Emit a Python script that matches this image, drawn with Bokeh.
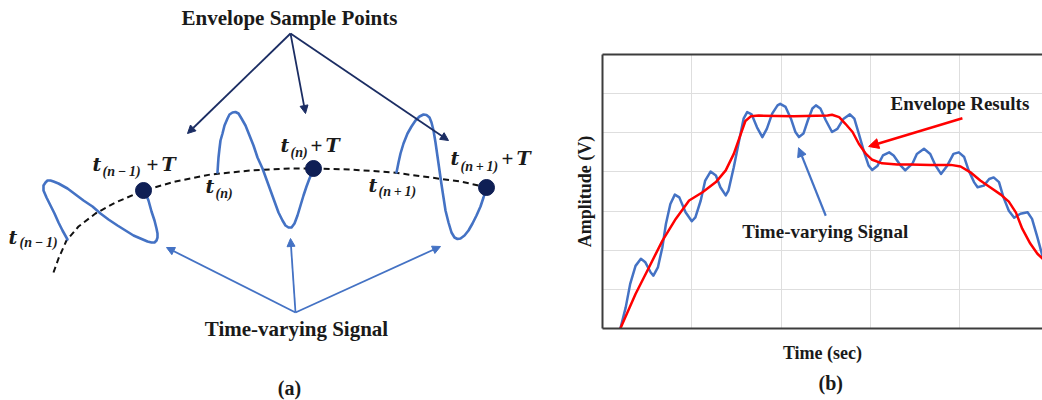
from bokeh.plotting import figure
from bokeh.layouts import row
from bokeh.models import (Range1d, Arrow, NormalHead, LinearAxis, FixedTicker,
                          Grid, Title)
from bokeh.core.properties import value
from bokeh.embed import file_html
from bokeh.resources import INLINE

SERIF = "Liberation Serif"
MATH = "DejaVu Serif"
INK = "#1a1a1a"
NAVY = "#0f1f55"
ARROW_NAVY = "#1b2d63"
BLUE = "#4472c4"
RED = "#ff0000"
FRAME = "#3c3c3c"
GRID = "#dedede"

# ---------------------------------------------------------------------------
# (b) time-varying signal and its envelope (time and amplitude in grid units)
# ---------------------------------------------------------------------------
signal_t = [0.20, 0.26, 0.31, 0.37, 0.43, 0.48, 0.54, 0.57, 0.62, 0.67,
            0.71, 0.76, 0.81, 0.86, 0.93, 1.00, 1.04, 1.10, 1.15, 1.21,
            1.27, 1.32, 1.38, 1.41, 1.47, 1.53, 1.58, 1.62, 1.67, 1.73,
            1.79, 1.84, 1.90, 1.96, 1.99, 2.05, 2.11, 2.16, 2.20, 2.25,
            2.30, 2.35, 2.39, 2.44, 2.50, 2.57, 2.63, 2.70, 2.77, 2.82,
            2.87, 2.93, 2.98, 3.02, 3.08, 3.14, 3.21, 3.26, 3.34, 3.39,
            3.47, 3.52, 3.60, 3.67, 3.73, 3.79, 3.86, 3.93, 3.99, 4.05,
            4.10, 4.16, 4.20, 4.27, 4.33, 4.38, 4.44, 4.49, 4.55, 4.61,
            4.68, 4.76, 4.81, 4.87, 4.93, 4.97]
signal_v = [0.00, 0.54, 1.14, 1.60, 1.78, 1.69, 1.43, 1.35, 1.56, 2.07,
            2.67, 3.18, 3.42, 3.35, 2.97, 2.74, 2.84, 3.27, 3.78, 4.01,
            3.91, 3.61, 3.40, 3.52, 4.12, 4.80, 5.36, 5.53, 5.47, 5.14,
            4.89, 5.10, 5.49, 5.70, 5.74, 5.66, 5.36, 5.02, 4.89, 4.98,
            5.32, 5.62, 5.70, 5.62, 5.32, 5.02, 5.10, 5.36, 5.47, 5.36,
            4.98, 4.50, 4.16, 4.05, 4.16, 4.42, 4.50, 4.42, 4.16, 4.04,
            4.21, 4.46, 4.59, 4.46, 4.16, 3.95, 4.16, 4.46, 4.50, 4.38,
            4.04, 3.74, 3.61, 3.65, 3.82, 3.86, 3.74, 3.35, 3.01, 2.83,
            2.93, 2.97, 2.80, 2.33, 1.82, 1.50]

envelope_t = [0.20, 0.37, 0.52, 0.67, 0.82, 0.97, 1.12, 1.27, 1.38, 1.47,
              1.55, 1.60, 1.66, 1.75, 2.14, 2.52, 2.57, 2.65, 2.72, 2.80,
              2.87, 2.95, 3.02, 3.13, 3.30, 3.45, 3.67, 3.90, 4.01, 4.12,
              4.23, 4.34, 4.46, 4.55, 4.63, 4.70, 4.79, 4.87, 4.93, 4.97]
envelope_v = [0.00, 0.88, 1.56, 2.24, 2.80, 3.27, 3.48, 3.74, 4.04, 4.46,
              4.98, 5.30, 5.42, 5.44, 5.42, 5.44, 5.46, 5.40, 5.23, 5.02,
              4.72, 4.46, 4.31, 4.22, 4.19, 4.19, 4.18, 4.18, 4.14, 3.99,
              3.78, 3.61, 3.42, 3.24, 2.96, 2.55, 2.17, 1.91, 1.78, 1.65]

time_grid = [1, 2, 3, 4]
amp_grid = [1, 2, 3, 4, 5, 6]

# callouts: text anchors and arrow start/end points
envelope_note = {"x": 3.225, "y": 5.75, "text": "Envelope Results"}
envelope_arrow = {"x0": 4.03, "y0": 5.37, "x1": 2.98, "y1": 4.65}
signal_note = {"x": 2.494, "y": 2.49, "text": "Time-varying Signal"}
signal_arrow = {"x0": 2.50, "y0": 2.88, "x1": 2.195, "y1": 4.62}

# ---------------------------------------------------------------------------
# (a) sampling schematic, drawn in page-like units (y grows downward)
# ---------------------------------------------------------------------------
arc_x = [53, 58, 66, 78, 95, 115, 143, 175, 210, 250, 290, 313, 350, 393, 430, 460, 487]
arc_y = [272, 258, 240, 226, 213, 202, 190, 181, 174, 170, 168, 168, 169, 172, 177, 181, 187]

wave_a_x = [67, 62, 58, 54, 50, 46, 43, 43, 45, 47, 50, 53, 58, 67, 75, 83, 92,
            100, 108, 117, 125, 133, 140, 147, 151, 154, 156, 157, 157, 156,
            154, 151, 148, 146, 144]
wave_a_y = [239, 230, 222, 213, 205, 197, 190, 185, 182, 180, 180, 181, 183,
            188, 194, 200, 206, 213, 219, 225, 230, 235, 238, 241, 242, 242,
            240, 237, 233, 228, 220, 211, 200, 195, 191]

wave_b_x = [217, 217.5, 218, 219, 220, 222, 224, 227, 229, 232, 235, 238, 241,
            245, 249, 253, 257, 262, 266, 270, 274, 278, 282, 285, 288, 291,
            294, 297, 300, 303, 306, 309, 312]
wave_b_y = [172, 164, 157, 148, 140, 133, 125, 118, 114, 112, 111.5, 113, 118,
            125, 135, 145, 157, 168, 179, 190, 201, 212, 220, 225, 227, 227,
            223, 215, 205, 195, 186, 178, 171]

wave_c_x = [396, 398, 400, 403, 407, 411, 415, 419, 423, 426, 429, 431, 433,
            435, 437, 439, 441, 443, 445, 448, 451, 454, 457, 460, 464, 468,
            472, 476, 480, 483, 486]
wave_c_y = [172, 162, 153, 143, 133, 126, 120, 116, 114, 114.5, 117, 122, 130,
            142, 156, 170, 184, 197, 210, 222, 232, 237, 238.5, 238, 235, 230,
            223, 215, 206, 197, 187]

sample_x = [143, 313, 486]
sample_y = [190, 168, 187]

title_pos = (289, 17)
sample_arrow_start = (290, 33)
sample_arrow_ends_x = [187, 305, 448]
sample_arrow_ends_y = [133, 113, 140]

signal_title_pos = (296, 328)
signal_arrow_start = (295, 312)
signal_arrow_ends_x = [166, 290, 440]
signal_arrow_ends_y = [247, 238, 246]

panel_a_pos = (289, 387)

# time-stamp labels: italic "t", subscript index, optional "+ T"
stamp_t_x = [92, 280, 450, 205, 368, 8]
stamp_t_y = [163, 144, 157, 185, 184, 236]
stamp_sub = ["(n\u2009\u2212\u20091)", "(n)", "(n\u2009+\u20091)", "(n)",
             "(n\u2009+\u20091)", "(n\u2009\u2212\u20091)"]
stamp_sub_x = [102, 290, 460, 215, 378, 19]
stamp_sub_y = [171, 152, 166, 193, 191, 242]
stamp_plus_x = [146, 310, 501]
stamp_T_x = [161, 325, 516]
stamp_plus_y = [164, 145, 158]

# ---------------------------------------------------------------------------
pa = figure(width=560, height=400, x_range=Range1d(0, 560), y_range=Range1d(400, 0),
            x_axis_type=None, y_axis_type=None, output_backend="svg",
            toolbar_location=None, min_border=0)
pa.frame_align = False
pa.outline_line_color = None
pa.background_fill_color = "white"
pa.border_fill_color = "white"

pa.line(arc_x, arc_y, line_color="#111111", line_width=2, line_dash="6 4")
for wx, wy in ((wave_a_x, wave_a_y), (wave_b_x, wave_b_y), (wave_c_x, wave_c_y)):
    pa.line(wx, wy, line_color=BLUE, line_width=2.6, line_join="round", line_cap="round")
pa.scatter(sample_x, sample_y, size=16, fill_color=NAVY, line_color=NAVY)

for ex, ey in zip(sample_arrow_ends_x, sample_arrow_ends_y):
    pa.add_layout(Arrow(x_start=sample_arrow_start[0], y_start=sample_arrow_start[1],
                        x_end=ex, y_end=ey, line_color=ARROW_NAVY, line_width=1.8,
                        end=NormalHead(size=8, fill_color=ARROW_NAVY, line_color=ARROW_NAVY)))
for ex, ey in zip(signal_arrow_ends_x, signal_arrow_ends_y):
    pa.add_layout(Arrow(x_start=signal_arrow_start[0], y_start=signal_arrow_start[1],
                        x_end=ex, y_end=ey, line_color=BLUE, line_width=1.8,
                        end=NormalHead(size=8, fill_color=BLUE, line_color=BLUE)))

text_common = dict(text_font=value(SERIF), text_color=INK, text_baseline="middle")
math_common = dict(text_font=value(MATH), text_color=INK, text_baseline="middle",
                   text_align="left")
pa.text(x=[title_pos[0]], y=[title_pos[1]], text=["Envelope Sample Points"],
        text_font_style="bold", text_font_size="21px", text_align="center", **text_common)
pa.text(x=[signal_title_pos[0]], y=[signal_title_pos[1]], text=["Time-varying Signal"],
        text_font_style="bold", text_font_size="21px", text_align="center", **text_common)
pa.text(x=[panel_a_pos[0]], y=[panel_a_pos[1]], text=["(a)"], text_font_style="bold",
        text_font_size="20px", text_align="center", **text_common)

pa.text(x=stamp_t_x, y=stamp_t_y, text=["t"] * len(stamp_t_x), text_font_style="bold italic",
        text_font_size="19px", **math_common)
pa.text(x=stamp_sub_x, y=stamp_sub_y, text=stamp_sub, text_font=value(SERIF),
        text_font_style="bold italic", text_font_size="14px", text_color=INK,
        text_baseline="middle", text_align="left")
pa.text(x=stamp_plus_x, y=stamp_plus_y, text=["+"] * 3, text_font=value(SERIF),
        text_font_style="bold", text_font_size="21px", text_color=INK,
        text_baseline="middle", text_align="left")
pa.text(x=stamp_T_x, y=stamp_t_y[:3], text=["T"] * 3, text_font_style="bold italic",
        text_font_size="19px", **math_common)

# ---------------------------------------------------------------------------
pb = figure(width=482, height=400, x_range=Range1d(0, 4.927), y_range=Range1d(0, 7),
            x_axis_type=None, y_axis_type=None, output_backend="svg",
            toolbar_location=None, min_border_left=42, min_border_right=0,
            min_border_top=54, min_border_bottom=72)
pb.frame_align = False
pb.outline_line_color = None
pb.background_fill_color = "white"
pb.border_fill_color = "white"

pb.add_layout(Grid(dimension=0, ticker=FixedTicker(ticks=time_grid),
                   grid_line_color=GRID, grid_line_width=1))
pb.add_layout(Grid(dimension=1, ticker=FixedTicker(ticks=amp_grid),
                   grid_line_color=GRID, grid_line_width=1))


def frame_axis(**kw):
    return LinearAxis(ticker=FixedTicker(ticks=[]), axis_line_color=FRAME, axis_line_width=2,
                      major_tick_line_color=None, minor_tick_line_color=None,
                      major_tick_out=0, major_tick_in=0, minor_tick_out=0, minor_tick_in=0,
                      major_label_text_font_size="0px", major_label_standoff=0,
                      axis_label_text_font=SERIF, axis_label_text_font_style="bold",
                      axis_label_text_font_size="18px", axis_label_text_color=INK, **kw)


pb.add_layout(frame_axis(axis_label="Amplitude (V)", axis_label_standoff=8), "left")
pb.add_layout(frame_axis(axis_label="Time (sec)", axis_label_standoff=14), "below")
pb.add_layout(frame_axis(), "above")
pb.add_layout(Title(text="(b)", align="left", text_font=SERIF, text_font_style="bold",
                    text_font_size="20px", text_color=INK, standoff=8, offset=216), "below")

pb.line(signal_t, signal_v, line_color=BLUE, line_width=2.5, line_join="round")
pb.line(envelope_t, envelope_v, line_color=RED, line_width=2.5, line_join="round")

pb.text(x=[envelope_note["x"]], y=[envelope_note["y"]], text=[envelope_note["text"]],
        text_font_style="bold", text_font_size="19px", text_align="left", **text_common)
pb.text(x=[signal_note["x"]], y=[signal_note["y"]], text=[signal_note["text"]],
        text_font_style="bold", text_font_size="19px", text_align="center", **text_common)

pb.add_layout(Arrow(x_start=envelope_arrow["x0"], y_start=envelope_arrow["y0"],
                    x_end=envelope_arrow["x1"], y_end=envelope_arrow["y1"],
                    line_color=RED, line_width=2.5,
                    end=NormalHead(size=10, fill_color=RED, line_color=RED)))
pb.add_layout(Arrow(x_start=signal_arrow["x0"], y_start=signal_arrow["y0"],
                    x_end=signal_arrow["x1"], y_end=signal_arrow["y1"],
                    line_color=BLUE, line_width=2.2,
                    end=NormalHead(size=9, fill_color=BLUE, line_color=BLUE)))

layout = row(pa, pb)
open("out.html", "w").write(file_html(layout, INLINE))
